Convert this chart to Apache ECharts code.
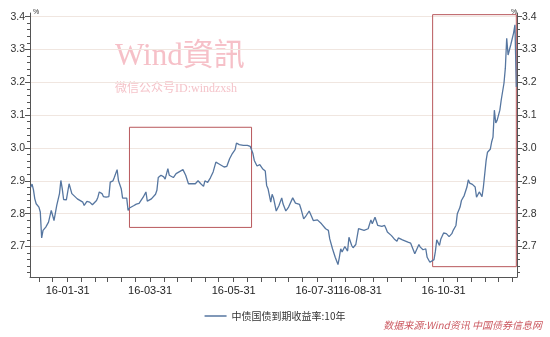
<!DOCTYPE html>
<html><head><meta charset="utf-8">
<script src="https://cdn.jsdelivr.net/npm/echarts@6/dist/echarts.min.js"></script>
<style>html,body{margin:0;padding:0;background:#fff}#c{width:550px;height:337px}</style>
</head><body><div id="c"></div>
<script>
// ---- data (2016, MM-DD) ----
const dates = ['01-04','01-05','01-06','01-07','01-08','01-10','01-11','01-12','01-13','01-14','01-15','01-17','01-19','01-21','01-23','01-25','01-26','01-27','01-28','01-30','01-31',
'02-01','02-03','02-04','02-07','02-11','02-12','02-14','02-16','02-18','02-21','02-22','02-23','02-25','02-26','02-28',
'03-01','03-02','03-04','03-05','03-07','03-08','03-10','03-11','03-12','03-14','03-15','03-16','03-19','03-21','03-23','03-26','03-28','03-29',
'04-01','04-04','04-05','04-06','04-08','04-10','04-11','04-13','04-14','04-17','04-19','04-20','04-24','04-26','04-28','04-30',
'05-03','05-05','05-07','05-09','05-10','05-12','05-14','05-16','05-18','05-20','05-21','05-24','05-26','05-28','05-30',
'06-01','06-02','06-04','06-07','06-10','06-12','06-14','06-15','06-17','06-19','06-21','06-23','06-24','06-25','06-27','06-28','06-29',
'07-01','07-03','07-05','07-06','07-08','07-10','07-13','07-15','07-18','07-19','07-21','07-23','07-25','07-27','07-28','07-31',
'08-03','08-06','08-08','08-09','08-11','08-13','08-15','08-16','08-17','08-18','08-20','08-22','08-23','08-25','08-26','08-28','08-30','08-31',
'09-03','09-06','09-08','09-09','09-11','09-13','09-16','09-18','09-19','09-20','09-23','09-25','09-27','09-28',
'10-01','10-05','10-07','10-08','10-10','10-11','10-13','10-14','10-16','10-18','10-19','10-21','10-22','10-24','10-25','10-26','10-28','10-29','10-31',
'11-02','11-04','11-06','11-07','11-09','11-10','11-12','11-13','11-15','11-16','11-17','11-18','11-19','11-21','11-23','11-24','11-26','11-27','11-28','11-29',
'12-01','12-02','12-04','12-05','12-06','12-07','12-08','12-09','12-11','12-12','12-14','12-15','12-16','12-17','12-18','12-19','12-21','12-22','12-23'];
const yields = [2.88,2.89,2.873,2.845,2.83,2.82,2.805,2.726,2.749,2.75,2.759,2.774,2.81,2.779,2.825,2.861,2.901,2.876,2.843,2.842,2.840,
2.891,2.861,2.855,2.845,2.835,2.825,2.837,2.835,2.827,2.84,2.85,2.866,2.861,2.852,2.85,
2.852,2.896,2.90,2.911,2.934,2.90,2.876,2.847,2.85,2.847,2.81,2.817,2.824,2.829,2.831,2.85,2.866,2.838,
2.845,2.859,2.871,2.91,2.917,2.912,2.905,2.937,2.917,2.91,2.922,2.927,2.934,2.917,2.891,2.891,
2.891,2.90,2.891,2.883,2.90,2.895,2.909,2.927,2.957,2.952,2.954,2.942,2.944,2.967,2.983,
2.995,3.015,3.01,3.008,3.008,3.005,2.983,2.962,2.945,2.949,2.937,2.93,2.886,2.876,2.835,2.859,2.848,
2.808,2.825,2.848,2.829,2.808,2.82,2.848,2.832,2.828,2.815,2.784,2.795,2.808,2.789,2.779,2.781,
2.769,2.754,2.749,2.723,2.693,2.667,2.645,2.667,2.693,2.683,2.70,2.686,2.728,2.703,2.696,2.706,2.754,2.749,
2.749,2.754,2.781,2.769,2.789,2.764,2.761,2.764,2.755,2.744,2.733,2.723,2.716,2.726,
2.72,2.713,2.71,2.706,2.678,2.676,2.706,2.698,2.69,2.693,2.667,2.652,2.647,2.66,2.685,2.72,2.703,2.723,2.741,
2.739,2.73,2.739,2.749,2.764,2.80,2.82,2.84,2.855,2.852,2.881,2.903,2.893,2.889,2.881,2.85,2.866,2.863,2.852,2.881,
2.962,2.987,2.996,3.018,3.033,3.115,3.076,3.084,3.115,3.146,3.197,3.243,3.334,3.283,3.299,3.315,3.35,3.375,3.186];
const seriesName = '中债国债到期收益率:10年';
const xTickDates = ['01-10','01-20','01-31','02-10','02-20','02-29','03-10','03-20','03-31','04-10','04-20','04-30','05-10','05-20','05-31','06-10','06-20','06-30','07-10','07-20','07-31','08-10','08-20','08-31','09-10','09-20','09-30','10-10','10-20','10-31','11-10','11-20','11-30','12-10','12-20'];
const xLabelDates = ['01-31','03-31','05-31','07-31','08-31','10-31'];
const xLabelTexts = ['16-01-31','16-03-31','16-05-31','16-07-31','16-08-31','16-10-31'];
const yMajorTicks = [2.7,2.8,2.9,3.0,3.1,3.2,3.3,3.4];
const yMinorTicks = [2.62,2.64,2.66,2.68,2.72,2.74,2.76,2.78,2.82,2.84,2.86,2.88,2.92,2.94,2.96,2.98,3.02,3.04,3.06,3.08,3.12,3.14,3.16,3.18,3.22,3.24,3.26,3.28,3.32,3.34,3.36,3.38];
const highlightBoxes = [['03-16',3.063,'06-13',2.758],['10-23',3.406,'12-23',2.6385]];

function doy(s){const p=s.split('-').map(Number);return (Date.UTC(2016,p[0]-1,p[1])-Date.UTC(2016,0,1))/86400000;}
const X_MIN=2.5, X_MAX=357.5, Y_MIN=2.607, Y_MAX=3.411;
const labelMap={}; xLabelDates.forEach((d,i)=>labelMap[doy(d)]=xLabelTexts[i]);
const axisColor='#555';
const lineColor='#5676a0';
const gridRect={left:30,right:33,top:13,bottom:60};
const chart=echarts.init(document.getElementById('c'),null,{renderer:'canvas'});
chart.setOption({
  animation:false,
  grid:[Object.assign({},gridRect),Object.assign({},gridRect)],
  legend:{data:[{name:seriesName,icon:'rect',itemStyle:{color:lineColor}}],left:'center',top:306,itemWidth:22,itemHeight:1.5,itemGap:6,
    textStyle:{fontSize:10,color:'#333',fontFamily:'Noto Sans CJK SC'}},
  xAxis:[{type:'value',gridIndex:0,min:X_MIN,max:X_MAX,
    axisLine:{show:true,onZero:false,lineStyle:{color:axisColor}},
    axisTick:{show:true,customValues:xTickDates.map(doy),length:5,lineStyle:{color:axisColor}},
    axisLabel:{customValues:xLabelDates.map(doy),formatter:v=>labelMap[Math.round(v)]||'',margin:8,color:'#222',fontSize:11,fontFamily:'Liberation Sans'},
    splitLine:{show:false}},
   {type:'value',gridIndex:1,min:X_MIN,max:X_MAX,show:false}],
  yAxis:[
   {type:'value',gridIndex:0,position:'left',min:Y_MIN,max:Y_MAX,
    axisLine:{show:true,lineStyle:{color:axisColor}},
    axisTick:{show:true,customValues:yMajorTicks,length:5,lineStyle:{color:axisColor}},
    axisLabel:{customValues:yMajorTicks,formatter:v=>v.toFixed(1),margin:5,color:'#333',fontSize:10.5,fontFamily:'Liberation Sans'},
    splitLine:{show:true,lineStyle:{color:'#f0e6e0',width:1}}},
   {type:'value',gridIndex:0,position:'right',min:Y_MIN,max:Y_MAX,
    axisLine:{show:true,lineStyle:{color:axisColor}},
    axisTick:{show:true,customValues:yMajorTicks,length:5,lineStyle:{color:axisColor}},
    axisLabel:{customValues:yMajorTicks,formatter:v=>v.toFixed(1),margin:5,color:'#333',fontSize:10.5,fontFamily:'Liberation Sans'},
    splitLine:{show:false}},
   {type:'value',gridIndex:1,position:'left',min:Y_MIN,max:Y_MAX,
    axisLine:{show:false},axisTick:{show:true,customValues:yMinorTicks,length:3,lineStyle:{color:axisColor}},
    axisLabel:{show:false},splitLine:{show:false}},
   {type:'value',gridIndex:1,position:'right',min:Y_MIN,max:Y_MAX,
    axisLine:{show:false},axisTick:{show:true,customValues:yMinorTicks,length:3,lineStyle:{color:axisColor}},
    axisLabel:{show:false},splitLine:{show:false}}
  ],
  graphic:[
   {type:'text',left:115,top:41,z:0,style:{text:'Wind資訊',font:'31px "Liberation Serif", "Noto Sans CJK TC", serif',fill:'#f6c0c8'}},
   {type:'text',left:115,top:83,z:0,style:{text:'微信公众号ID:windzxsh',font:'12px "Liberation Serif", "Noto Sans CJK SC", serif',fill:'#f5c4ca'}},
   {type:'text',left:33,top:9,style:{text:'%',font:'7px "Liberation Sans"',fill:'#333'}},
   {type:'text',left:511,top:9,style:{text:'%',font:'7px "Liberation Sans"',fill:'#333'}},
   {type:'text',right:8,top:320,style:{text:'数据来源:Wind资讯 中国债券信息网',font:'italic 10px "Noto Sans CJK SC"',fill:'#cc5a62'}}
  ],
  series:[{name:seriesName,type:'line',xAxisIndex:0,yAxisIndex:0,symbol:'none',
    data:dates.map((d,i)=>[doy(d),yields[i]]),
    lineStyle:{color:lineColor,width:1.3},itemStyle:{color:lineColor},
    markArea:{silent:true,itemStyle:{color:'rgba(0,0,0,0)',borderColor:'#b8585c',borderWidth:1},
      data:highlightBoxes.map(b=>[{coord:[doy(b[0]),b[1]]},{coord:[doy(b[2]),b[3]]}])}
  }]
});
</script></body></html>
